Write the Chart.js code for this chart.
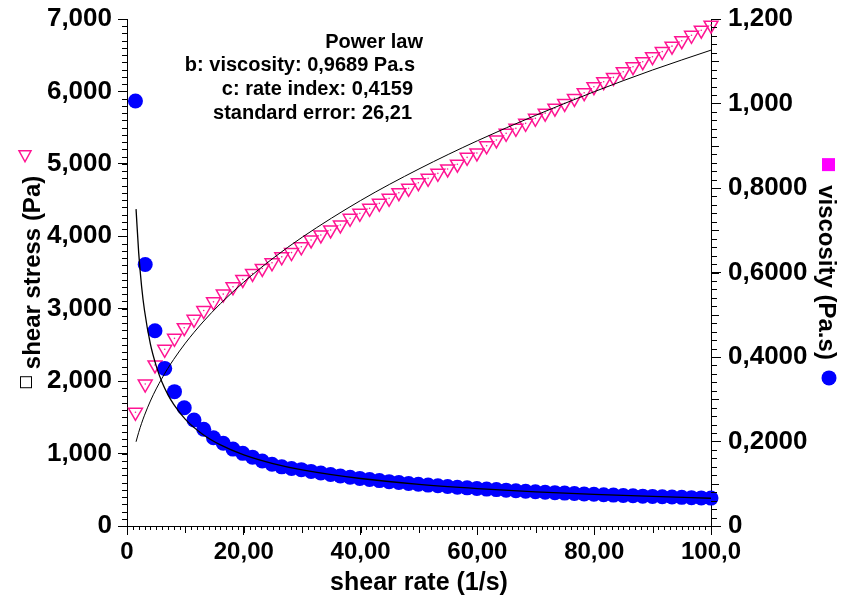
<!DOCTYPE html>
<html>
<head>
<meta charset="utf-8">
<script src="https://cdn.jsdelivr.net/npm/chart.js@4.4.1/dist/chart.umd.min.js"></script>
<style>
  html, body { margin: 0; padding: 0; background: #fff; }
  #wrap { width: 842px; height: 605px; }
</style>
</head>
<body>
<div id="wrap"><canvas id="flowCurve" width="842" height="605"></canvas></div>
<script>
const shearRate = [
    1.45, 3.12, 4.79, 6.46, 8.13, 9.80, 11.47, 13.14, 14.81, 16.48,
    18.15, 19.82, 21.49, 23.16, 24.83, 26.50, 28.17, 29.85, 31.52, 33.19,
    34.86, 36.53, 38.20, 39.87, 41.54, 43.21, 44.88, 46.55, 48.22, 49.89,
    51.56, 53.23, 54.90, 56.57, 58.24, 59.91, 61.58, 63.25, 64.92, 66.59,
    68.26, 69.93, 71.60, 73.27, 74.94, 76.61, 78.28, 79.95, 81.62, 83.29,
    84.97, 86.64, 88.31, 89.98, 91.65, 93.32, 94.99, 96.66, 98.33, 100.0
];
const shearStress = [
    1570, 1960, 2223, 2440, 2591, 2738, 2854, 2975, 3095, 3202,
    3303, 3405, 3487, 3556, 3634, 3716, 3775, 3855, 3949, 4018,
    4087, 4156, 4248, 4317, 4386, 4455, 4524, 4602, 4662, 4740,
    4800, 4869, 4930, 4995, 5090, 5150, 5250, 5330, 5421, 5490,
    5559, 5628, 5700, 5768, 5835, 5904, 5982, 6065, 6134, 6194,
    6272, 6341, 6410, 6479, 6550, 6625, 6700, 6775, 6845, 6915
];
const viscosity = [
    1.006, 0.619, 0.462, 0.373, 0.318, 0.280, 0.251, 0.229, 0.209, 0.196,
    0.182, 0.172, 0.163, 0.154, 0.146, 0.140, 0.136, 0.1334, 0.1292, 0.1253,
    0.1218, 0.1185, 0.1155, 0.1126, 0.1099, 0.1074, 0.1050, 0.1028, 0.1007, 0.0987,
    0.0968, 0.0951, 0.0934, 0.0918, 0.0903, 0.0888, 0.0874, 0.0861, 0.0848, 0.0836,
    0.0823, 0.0811, 0.0800, 0.0789, 0.0779, 0.0769, 0.0759, 0.0750, 0.0740, 0.0731,
    0.0723, 0.0715, 0.0707, 0.0700, 0.0692, 0.0685, 0.0678, 0.0671, 0.0665, 0.0660
];

// Power law fit curves
const fitRate = [1.55, 2, 2.5, 3, 4, 5, 6, 7, 8, 10, 13, 16, 20, 25, 30, 40, 50, 60, 70, 80, 90, 100];
const fitStress = [1163, 1293, 1418, 1530, 1725, 1893, 2041, 2177, 2301, 2525, 2816, 3070, 3368, 3696, 3987, 4494, 4930, 5319, 5671, 5996, 6296, 6570];
const fitViscosity = [0.750, 0.647, 0.567, 0.510, 0.431, 0.379, 0.340, 0.311, 0.288, 0.2525, 0.2166, 0.1919, 0.1684, 0.1478, 0.1329, 0.1124, 0.0986, 0.0887, 0.0810, 0.0750, 0.0700, 0.0657];

// Tick labels
const rateTicks = ['0', '20,00', '40,00', '60,00', '80,00', '100,0'];
const stressTicks = ['0', '1,000', '2,000', '3,000', '4,000', '5,000', '6,000', '7,000'];
const viscosityTicks = ['0', '0,2000', '0,4000', '0,6000', '0,8000', '1,000', '1,200'];

const fitNotes = ['Power law', 'b: viscosity: 0,9689 Pa.s', 'c: rate index: 0,4159', 'standard error: 26,21'];

const PINK = '#ff1493';
const BLUE = '#0000ff';
const SANS = "'Liberation Sans', Arial, sans-serif";

Chart.defaults.font.family = SANS;
Chart.defaults.font.weight = 'bold';
Chart.defaults.color = '#000';

const toPoints = (xs, ys) => xs.map((x, i) => ({ x: x, y: ys[i] }));

// keep the plot box where the reference has it
const fixWidth = w => s => {
    s.width = w;
    s.paddingTop = 0;
    s.paddingBottom = 0;
};

// minor ticks, axis title symbols and fit notes
const extrasPlugin = {
    id: 'extras',
    afterDraw(chart) {
        const ctx = chart.ctx;
        const { x, y, y1 } = chart.scales;
        ctx.save();
        ctx.strokeStyle = '#000';
        ctx.lineWidth = 1;
        ctx.beginPath();
        for (let i = 0; i <= 70; i++) {
            const py = Math.round(y.getPixelForValue(i * 100)) + 0.5;
            ctx.moveTo(y.right - 5, py);
            ctx.lineTo(y.right, py);
        }
        for (let i = 0; i <= 60; i++) {
            const py = Math.round(y1.getPixelForValue(i * 0.02)) + 0.5;
            ctx.moveTo(y1.left, py);
            ctx.lineTo(y1.left + (i % 5 === 0 ? 8 : 6), py);
        }
        for (let i = 0; i <= 100; i++) {
            const px = Math.round(x.getPixelForValue(i)) + 0.5;
            ctx.moveTo(px, x.top);
            ctx.lineTo(px, x.top + (i % 10 === 0 ? 7 : 4));
        }
        ctx.stroke();

        // axis title symbols
        const midY = (chart.chartArea.top + chart.chartArea.bottom) / 2;
        ctx.font = 'bold 24px ' + SANS;
        const wLeft = ctx.measureText('shear stress (Pa)').width;
        const wRight = ctx.measureText('viscosity (Pa.s)').width;

        // left: open square below, pink triangle above
        const sqY = midY + wLeft / 2 + 13;
        ctx.strokeStyle = '#000';
        ctx.strokeRect(20.5, sqY - 5.5, 11, 11);
        const trY = midY - wLeft / 2 - 20;
        ctx.strokeStyle = PINK;
        ctx.lineWidth = 1.5;
        ctx.beginPath();
        ctx.moveTo(19, trY - 5);
        ctx.lineTo(31, trY - 5);
        ctx.lineTo(25, trY + 6);
        ctx.closePath();
        ctx.stroke();

        // right: magenta square above, blue dot below
        ctx.fillStyle = '#ff00ff';
        ctx.fillRect(822, midY - wRight / 2 - 27, 13, 13);
        ctx.fillStyle = BLUE;
        ctx.beginPath();
        ctx.arc(829, midY + wRight / 2 + 18, 7.5, 0, Math.PI * 2);
        ctx.fill();

        // fit notes
        ctx.fillStyle = '#000';
        ctx.font = 'bold 20px ' + SANS;
        ctx.textAlign = 'right';
        ctx.textBaseline = 'middle';
        const noteRight = [423, 415, 413, 412];
        fitNotes.forEach((t, i) => ctx.fillText(t, noteRight[i], 42 + i * 23.7));
        ctx.restore();
    }
};

const flowCtx = document.getElementById('flowCurve').getContext('2d');

const flowChart = new Chart(flowCtx, {
    type: 'scatter',
    data: {
        datasets: [
            {
                label: 'stress fit',
                data: toPoints(fitRate, fitStress),
                yAxisID: 'y',
                showLine: true,
                borderColor: '#000',
                borderWidth: 1,
                pointRadius: 0,
                cubicInterpolationMode: 'monotone',
                order: 0
            },
            {
                label: 'viscosity fit',
                data: toPoints(fitRate, fitViscosity),
                yAxisID: 'y1',
                showLine: true,
                borderColor: '#000',
                borderWidth: 1.3,
                pointRadius: 0,
                cubicInterpolationMode: 'monotone',
                order: 0
            },
            {
                label: 'viscosity',
                data: toPoints(shearRate, viscosity),
                yAxisID: 'y1',
                pointStyle: 'circle',
                pointRadius: 7.5,
                pointBackgroundColor: BLUE,
                pointBorderColor: BLUE,
                pointBorderWidth: 0,
                clip: false,
                order: 1
            },
            {
                label: 'stress centre',
                data: toPoints(shearRate, shearStress),
                yAxisID: 'y',
                pointStyle: 'circle',
                pointRadius: 0.8,
                pointBackgroundColor: PINK,
                pointBorderWidth: 0,
                clip: false,
                order: 2
            },
            {
                label: 'shear stress',
                data: toPoints(shearRate, shearStress),
                yAxisID: 'y',
                pointStyle: 'triangle',
                pointRotation: 180,
                pointRadius: 8,
                pointBackgroundColor: 'rgba(255,255,255,0)',
                pointBorderColor: PINK,
                pointBorderWidth: 1.5,
                clip: false,
                order: 3
            }
        ]
    },
    options: {
        responsive: false,
        animation: false,
        devicePixelRatio: 1,
        layout: { padding: { top: 19, right: 0, bottom: 0, left: 0 } },
        plugins: {
            legend: { display: false },
            tooltip: { enabled: false }
        },
        scales: {
            x: {
                type: 'linear',
                min: 0,
                max: 100,
                afterFit: s => { s.height = 79; },
                ticks: {
                    stepSize: 20,
                    padding: 3,
                    font: { size: 24, weight: 'bold' },
                    callback: (v, i) => rateTicks[i]
                },
                grid: { drawOnChartArea: false, tickLength: 9, tickColor: '#000' },
                border: { color: '#000', width: 1 },
                title: {
                    display: true,
                    text: 'shear rate (1/s)',
                    font: { size: 25, weight: 'bold' },
                    padding: { top: 0, bottom: 7 }
                }
            },
            y: {
                position: 'left',
                min: 0,
                max: 7000,
                afterFit: fixWidth(127),
                ticks: {
                    stepSize: 1000,
                    padding: 6,
                    font: { size: 26, weight: 'bold' },
                    callback: (v, i) => stressTicks[i]
                },
                grid: { drawOnChartArea: false, tickLength: 9, tickColor: '#000' },
                border: { color: '#000', width: 1 },
                title: {
                    display: true,
                    text: 'shear stress (Pa)',
                    font: { size: 24, weight: 'bold' },
                    padding: { top: 19, bottom: 0 }
                }
            },
            y1: {
                position: 'right',
                min: 0,
                max: 1.2,
                afterFit: fixWidth(131),
                ticks: {
                    stepSize: 0.2,
                    padding: 7,
                    font: { size: 26, weight: 'bold' },
                    callback: (v, i) => viscosityTicks[i]
                },
                grid: { drawOnChartArea: false, tickLength: 10, tickColor: '#000' },
                border: { color: '#000', width: 1 },
                title: {
                    display: true,
                    text: 'viscosity (Pa.s)',
                    font: { size: 24, weight: 'bold' },
                    padding: { top: 2, bottom: 0 }
                }
            }
        }
    },
    plugins: [extrasPlugin]
});
</script>
</body>
</html>
